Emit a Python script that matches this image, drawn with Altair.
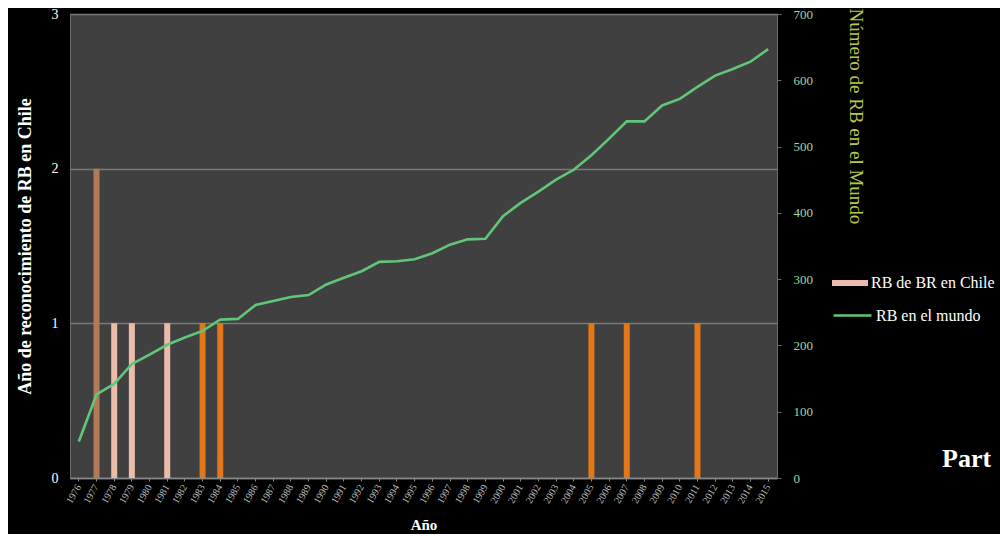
import altair as alt
import pandas as pd

years = [str(y) for y in range(1976, 2016)]
rb_chile = [0, 2, 1, 1, 0, 1, 0, 1, 1, 0,
            0, 0, 0, 0, 0, 0, 0, 0, 0, 0,
            0, 0, 0, 0, 0, 0, 0, 0, 0, 1,
            0, 1, 0, 0, 0, 1, 0, 0, 0, 0]
tonos = ["naranja", "marrón", "RB de BR en Chile", "RB de BR en Chile", "naranja",
         "RB de BR en Chile"] + ["naranja"] * 34
rb_mundo = [55, 126, 142, 172, 186, 201, 212, 222, 239, 240,
            261, 267, 273, 276, 292, 302, 312, 326, 327, 330,
            339, 352, 360, 361, 395, 415, 432, 450, 465, 487,
            512, 538, 538, 562, 572, 590, 607, 617, 628, 647]
serie_linea = ["RB en el mundo"] * len(years)

df = pd.DataFrame({"Año": years, "chile": rb_chile, "tono": tonos,
                   "mundo": rb_mundo, "serie": serie_linea})

SERIF = "Liberation Serif"
H = 464

x_enc = alt.X("Año:O",
              scale=alt.Scale(paddingInner=0, paddingOuter=0),
              axis=alt.Axis(title="Año", labelAngle=-60, labelFontSize=10,
                            labelColor="#bcbcbc", labelFont=SERIF, labelPadding=4,
                            tickSize=3, tickColor="#8a8a8a",
                            domainColor="#8a8a8a", domainWidth=1.5,
                            titleFont=SERIF, titleFontSize=15, titleFontWeight="bold",
                            titleColor="white", titlePadding=13))

bars = alt.Chart(df).mark_bar(size=6).encode(
    x=x_enc,
    y=alt.Y("chile:Q", scale=alt.Scale(domain=[0, 3]),
            axis=alt.Axis(title="Año de reconocimiento de RB en Chile",
                          values=[0, 1, 2, 3], format="d",
                          labelFont=SERIF, labelFontSize=14, labelColor="white",
                          labelPadding=12, tickSize=0, domain=False,
                          grid=True, gridColor="#7a7a7a", gridWidth=1.5,
                          titleFont=SERIF, titleFontSize=18, titleFontWeight="bold",
                          titleColor="white", titleX=-45, titleY=H / 2,
                          titleAlign="center", titleBaseline="middle")),
    fill=alt.Fill("tono:N",
                  scale=alt.Scale(domain=["RB de BR en Chile", "marrón", "naranja"],
                                  range=["#ecbcaa", "#b27a56", "#e27818"]),
                  legend=alt.Legend(title=None, orient="none", legendX=762, legendY=251,
                                    values=["RB de BR en Chile"],
                                    symbolType="M-1,-0.16H1V0.16H-1Z", symbolSize=1296,
                                    symbolStrokeWidth=0, symbolFillColor="#f3d6c8",
                                    labelFont=SERIF, labelFontSize=16, labelColor="white",
                                    labelOffset=3)),
)

line = alt.Chart(df).mark_line(strokeWidth=2.6).encode(
    x=x_enc,
    y=alt.Y("mundo:Q", scale=alt.Scale(domain=[0, 700]),
            axis=alt.Axis(orient="right", title="Número de RB en el Mundo",
                          values=[0, 100, 200, 300, 400, 500, 600, 700],
                          labelFont=SERIF, labelFontSize=13, labelColor="#9fd6a6",
                          labelPadding=12, tickSize=4, tickColor="#6a6a6a",
                          domain=False, grid=False,
                          titleFont=SERIF, titleFontSize=19, titleFontWeight="normal",
                          titleColor="#b9c94a", titleAngle=90, titleX=78, titleY=-6,
                          titleAlign="left", titleBaseline="middle")),
    stroke=alt.Stroke("serie:N",
                      scale=alt.Scale(domain=["RB en el mundo"], range=["#62c67a"]),
                      legend=alt.Legend(title=None, orient="none", legendX=762, legendY=281,
                                        symbolType="stroke", symbolSize=1444,
                                        symbolStrokeWidth=2.5,
                                        labelFont=SERIF, labelFontSize=16, labelColor="white",
                                        labelOffset=3)),
)

part = alt.Chart(pd.DataFrame({"t": ["Part"]})).mark_text(
    font=SERIF, fontSize=26, fontWeight="bold", color="white",
    align="left", baseline="alphabetic").encode(
    text="t:N", x=alt.value(872), y=alt.value(453))

chart = alt.layer(bars, line, part).resolve_scale(
    y="independent", fill="independent", stroke="independent"
).properties(
    width=707, height=H,
    autosize=alt.AutoSizeParams(type="none"),
    padding={"left": 62, "top": 6, "right": 223, "bottom": 56},
    background="black",
).configure_view(fill="#404040", stroke="#6a6a6a", strokeWidth=1)

chart.save("out.html", embed_options={"renderer": "svg", "actions": False})
